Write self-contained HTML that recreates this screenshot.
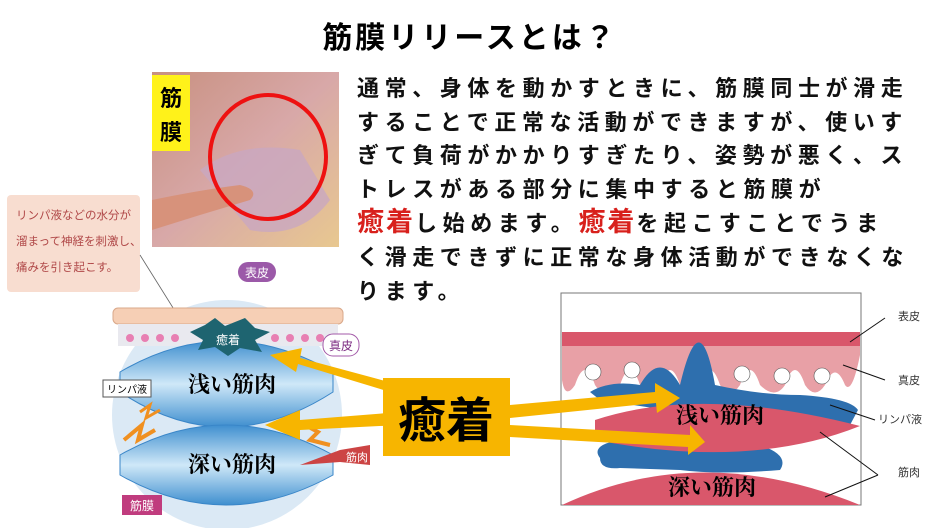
<!DOCTYPE html>
<html><head><meta charset="utf-8"><style>
body{margin:0;width:939px;height:528px;overflow:hidden;background:#fff;font-family:"Liberation Sans","Noto Sans CJK JP",sans-serif;}
svg{position:absolute;left:0;top:0}
.p{position:absolute;left:357px;top:72px;width:600px;font-size:22px;font-weight:bold;line-height:33.6px;letter-spacing:5.6px;color:#111;white-space:nowrap}
.r{color:#d8201c;font-size:27px;letter-spacing:2px}
</style></head><body>
<svg width="939" height="528" viewBox="0 0 939 528" font-family="Liberation Sans, Noto Sans CJK JP, sans-serif">
<defs>
<linearGradient id="ms" x1="0" y1="0" x2="0" y2="1"><stop offset="0" stop-color="#3f8fcf"/><stop offset=".5" stop-color="#cfe8f8"/><stop offset="1" stop-color="#3f8fcf"/></linearGradient>
<linearGradient id="ph" x1="0" y1="0" x2="1" y2="1"><stop offset="0" stop-color="#c89080"/><stop offset=".5" stop-color="#d8a8a8"/><stop offset="1" stop-color="#e8c890"/></linearGradient>
</defs>
<text x="470" y="48" font-size="30" font-weight="bold" text-anchor="middle" letter-spacing="3">筋膜リリースとは？</text>
<rect x="152" y="72" width="187" height="175" fill="url(#ph)"/>
<path d="M200 170 Q240 140 300 150 L330 200 Q300 240 250 230 Z" fill="#c9a7c0" opacity=".8"/>
<path d="M152 200 Q200 190 240 185 Q260 190 250 200 L200 215 L152 230Z" fill="#d7927b"/>
<rect x="152" y="75" width="38" height="76" fill="#fff21a"/>
<text x="171" y="106" font-size="22" font-weight="bold" text-anchor="middle">筋</text>
<text x="171" y="140" font-size="22" font-weight="bold" text-anchor="middle">膜</text>
<ellipse cx="268" cy="157" rx="58" ry="62" fill="none" stroke="#e11" stroke-width="4"/>
<rect x="7" y="195" width="133" height="97" rx="4" fill="#f8ddd0"/>
<g font-size="11.5" fill="#b04848"><text x="16" y="219">リンパ液などの水分が</text><text x="16" y="245">溜まって神経を刺激し、</text><text x="16" y="271">痛みを引き起こす。</text></g>
<line x1="140" y1="255" x2="190" y2="335" stroke="#666" stroke-width=".8"/>
<circle cx="227" cy="415" r="115" fill="#dbe9f5"/>
<rect x="113" y="308" width="230" height="16" rx="5" fill="#f6cfb5" stroke="#d9a88a"/>
<rect x="118" y="324" width="220" height="22" fill="#e9e9ef"/>
<g fill="#e87fb2"><circle cx="130" cy="338" r="4"/><circle cx="145" cy="338" r="4"/><circle cx="160" cy="338" r="4"/><circle cx="175" cy="338" r="4"/><circle cx="275" cy="338" r="4"/><circle cx="290" cy="338" r="4"/><circle cx="305" cy="338" r="4"/><circle cx="320" cy="338" r="4"/></g>
<path d="M120 372 Q225 310 333 372 L333 392 Q225 462 120 392Z" fill="url(#ms)" stroke="#3a86c8"/>
<path d="M120 455 Q225 395 333 455 L333 475 Q225 535 120 475Z" fill="url(#ms)" stroke="#3a86c8"/>
<path d="M190 332 L205 325 L215 318 L225 326 L245 318 L255 328 L270 332 L255 340 L262 352 L240 348 L228 356 L215 347 L198 350 L203 340Z" fill="#1e6470"/>
<text x="228" y="344" font-size="12" fill="#fff" text-anchor="middle">癒着</text>
<text x="232" y="392" font-size="22" font-weight="bold" text-anchor="middle" font-family="Liberation Serif, Noto Serif CJK SC, serif">浅い筋肉</text>
<text x="232" y="472" font-size="22" font-weight="bold" text-anchor="middle" font-family="Liberation Serif, Noto Serif CJK SC, serif">深い筋肉</text>
<rect x="238" y="262" width="38" height="20" rx="10" fill="#9b59a8"/><text x="257" y="277" font-size="12" fill="#fff" text-anchor="middle">表皮</text>
<rect x="323" y="334" width="36" height="22" rx="10" fill="#fff" stroke="#a35aa8"/><text x="341" y="350" font-size="12" fill="#7a2a80" text-anchor="middle">真皮</text>
<rect x="103" y="380" width="48" height="17" fill="#fff" stroke="#555"/><text x="127" y="393" font-size="10" text-anchor="middle">リンパ液</text>
<path d="M340 450 L370 445 L370 465 L340 462 L300 465Z" fill="#cc4444"/><text x="357" y="461" font-size="11" fill="#fff" text-anchor="middle">筋肉</text>
<rect x="122" y="495" width="40" height="20" fill="#c03c7e"/><text x="142" y="510" font-size="12" fill="#fff" text-anchor="middle">筋膜</text>
<g fill="none" stroke="#f09020"><path d="M140 412 L150 405 L146 418 L160 410" stroke-width="3"/><path d="M124 440 L142 425 L138 440 L155 430" stroke-width="4"/><path d="M305 425 L318 432 L310 440 L330 445" stroke-width="4"/></g>
<rect x="561" y="293" width="300" height="212" fill="#fff" stroke="#777"/>
<rect x="562" y="332" width="298" height="14" fill="#d9576b"/>
<path d="M562 346 H860 V355 Q852 395 845 385 Q835 360 825 385 Q815 400 805 385 Q795 355 785 385 Q775 400 760 385 Q750 355 740 385 Q730 400 720 385 Q710 355 700 385 Q690 400 680 385 Q670 355 660 385 Q650 400 640 385 Q630 355 620 385 Q605 400 595 385 Q585 355 575 385 Q565 400 562 380Z" fill="#e8a0a6"/>
<path d="M590 392 Q610 380 640 385 Q660 350 680 385 Q700 300 715 385 Q760 395 800 395 Q850 398 858 410 L850 425 Q800 440 760 445 Q790 455 780 470 Q720 475 680 470 L620 468 Q600 470 600 458 Q590 445 620 440 Q660 420 700 415 L600 400Z" fill="#2e6fae"/>
<path d="M595 420 Q700 385 860 426 Q750 470 595 440Z" fill="#d9576b"/>
<path d="M562 505 Q700 440 860 505Z" fill="#d9576b"/>
<g fill="#fff" stroke="#555" stroke-width=".6"><circle cx="593" cy="372" r="8"/><circle cx="632" cy="370" r="8"/><circle cx="742" cy="374" r="8"/><circle cx="782" cy="376" r="8"/><circle cx="822" cy="376" r="8"/></g>
<text x="720" y="423" font-size="22" font-weight="bold" text-anchor="middle" font-family="Liberation Serif, Noto Serif CJK SC, serif">浅い筋肉</text>
<text x="712" y="495" font-size="22" font-weight="bold" text-anchor="middle" font-family="Liberation Serif, Noto Serif CJK SC, serif">深い筋肉</text>
<g stroke="#111" stroke-width="1"><line x1="850" y1="342" x2="885" y2="318"/><line x1="843" y1="365" x2="885" y2="380"/><line x1="830" y1="405" x2="875" y2="420"/><line x1="820" y1="432" x2="878" y2="475"/><line x1="825" y1="497" x2="878" y2="475"/></g>
<g font-size="11" fill="#333"><text x="898" y="320">表皮</text><text x="898" y="384">真皮</text><text x="878" y="423">リンパ液</text><text x="898" y="476">筋肉</text></g>
<g fill="#f7b500">
<polygon points="400,385 300,358 302,348 270,355 296,372 298,364 400,395"/>
<polygon points="400,412 300,420 300,410 265,425 300,440 300,430 400,425"/>
<polygon points="510,405 655,392 655,383 680,398 657,413 656,403 510,418"/>
<polygon points="510,425 690,435 690,425 705,442 688,455 688,447 510,437"/>
<rect x="383" y="378" width="127" height="78"/>
</g>
<text x="446" y="437" font-size="48" font-weight="bold" text-anchor="middle">癒着</text>
</svg>
<div class="p">通常、身体を動かすときに、筋膜同士が滑走<br>することで正常な活動ができますが、使いす<br>ぎて負荷がかかりすぎたり、姿勢が悪く、ス<br>トレスがある部分に集中すると筋膜が<br><span class="r">癒着</span>し始めます。<span class="r">癒着</span>を起こすことでうま<br>く滑走できずに正常な身体活動ができなくな<br>ります。</div>
</body></html>
